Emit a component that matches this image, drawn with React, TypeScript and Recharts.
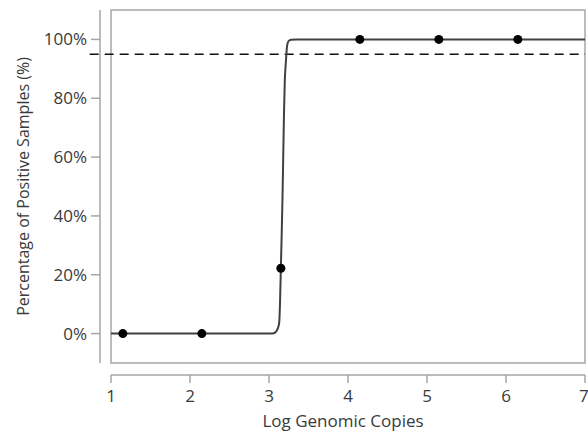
import React from "react";
import {
  ComposedChart,
  Line,
  Scatter,
  XAxis,
  YAxis,
  ReferenceLine,
  ReferenceArea,
  Label,
} from "recharts";

// observed detection rate per dilution level
const logCopies = [1.15, 2.15, 3.15, 4.15, 5.15, 6.15];
const positivePct = [0, 0, 22.2, 100, 100, 100];

// fitted curve
const fitX = [1, 3.04, 3.08, 3.1, 3.12, 3.13, 3.14, 3.15, 3.16, 3.17, 3.18, 3.19, 3.2, 3.21, 3.22, 3.23, 3.25, 3.28, 3.35, 7];
const fitY = [0, 0, 0.4, 1.1, 2.5, 4, 11, 22, 33, 45, 60, 75, 86, 91, 95, 98, 99.5, 99.9, 100, 100];

const xTicks = [1, 2, 3, 4, 5, 6, 7];
const yTicks = [0, 20, 40, 60, 80, 100];
const threshold = 95;

const points = logCopies.map((x, i) => ({ x, y: positivePct[i] }));
const curve = fitX.map((x, i) => ({ x, y: fitY[i] }));

const FONT = "'Open Sans', 'Noto Sans', sans-serif";
const AXIS_GRAY = "#a6a6a6";
const TEXT = "#3a3a3a";

export default function App() {
  return (
    <div style={{ position: "absolute", left: 0, top: 0, fontFamily: FONT, background: "#fff" }}>
      <ComposedChart
        width={588}
        height={433}
        margin={{ top: 10, right: 3, left: 0, bottom: 0 }}
      >
        <XAxis
          type="number"
          dataKey="x"
          domain={[1, 7]}
          ticks={xTicks}
          allowDataOverflow
          height={70}
          tickSize={8}
          tickMargin={19}
          axisLine={{ stroke: AXIS_GRAY, strokeWidth: 1.5, transform: "translate(0,12)" }}
          tickLine={{ stroke: AXIS_GRAY, strokeWidth: 1.5, transform: "translate(0,12)" }}
          tick={{ fill: TEXT, fontSize: 17, fontFamily: FONT }}
        >
          <Label
            value="Log Genomic Copies"
            position="insideBottom"
            offset={6}
            dx={-5}
            fill={TEXT}
            fontSize={17}
            fontFamily={FONT}
          />
        </XAxis>
        <YAxis
          type="number"
          dataKey="y"
          domain={[-10, 110]}
          ticks={yTicks}
          allowDataOverflow
          width={111}
          tickSize={9}
          tickMargin={15}
          tickFormatter={(v) => `${v}%`}
          axisLine={{ stroke: AXIS_GRAY, strokeWidth: 1.5, transform: "translate(-11,0)" }}
          tickLine={{ stroke: AXIS_GRAY, strokeWidth: 1.5, transform: "translate(-11,0)" }}
          tick={{ fill: TEXT, fontSize: 17, fontFamily: FONT }}
        >
          <Label
            value="Percentage of Positive Samples (%)"
            position="center"
            angle={-90}
            dx={-32}
            fill={TEXT}
            fontSize={16}
            fontFamily={FONT}
          />
        </YAxis>
        <ReferenceArea
          x1={1}
          x2={7}
          y1={-10}
          y2={110}
          fill="none"
          stroke={AXIS_GRAY}
          strokeWidth={1.5}
        />
        <ReferenceLine
          segment={[
            { x: 0.73, y: threshold },
            { x: 7, y: threshold },
          ]}
          ifOverflow="visible"
          stroke="#111"
          strokeWidth={1.5}
          strokeDasharray="9 6"
        />
        <Line
          data={curve}
          dataKey="y"
          type="monotone"
          stroke="#404040"
          strokeWidth={2}
          dot={false}
          activeDot={false}
          isAnimationActive={false}
        />
        <Scatter
          data={points}
          dataKey="y"
          fill="#000"
          shape={(p: any) => <circle cx={p.cx} cy={p.cy} r={4.5} fill="#000" />}
          isAnimationActive={false}
        />
      </ComposedChart>
    </div>
  );
}
